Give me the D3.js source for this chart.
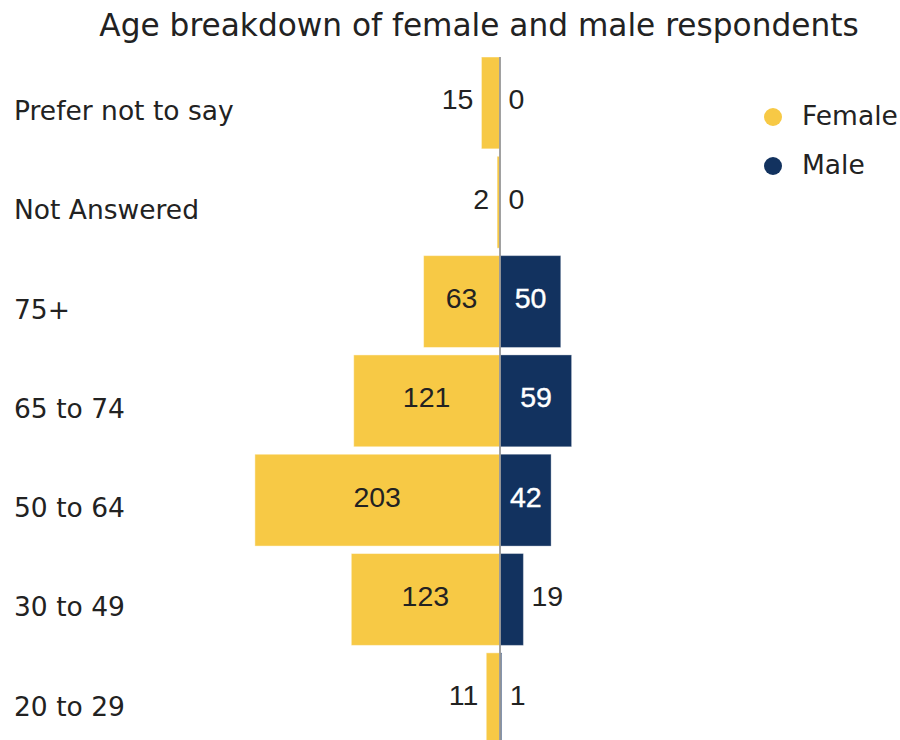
<!DOCTYPE html>
<html>
<head>
<meta charset="utf-8">
<script src="https://cdn.jsdelivr.net/npm/d3@7"></script>
<style>
  html, body { margin: 0; padding: 0; background: #fff; }
  svg { display: block; }
</style>
</head>
<body>
<svg id="chart" width="900" height="740"></svg>
<script>
// Age groups, top to bottom
const categories = ["Prefer not to say", "Not Answered", "75+", "65 to 74", "50 to 64", "30 to 49", "20 to 29"];
// Respondent counts per age group
const femaleValues = [15, 2, 63, 121, 203, 123, 11];
const maleValues = [0, 0, 50, 59, 42, 19, 1];
const seriesNames = ["Female", "Male"];

const colors = { Female: "#F7C945", Male: "#12325F" };
const textColor = "#222";
const labelFont = "'DejaVu Sans', Verdana, sans-serif";
const valueFont = "'Liberation Sans', Arial, sans-serif";

const svg = d3.select("#chart");
const centerX = 500;

// Band scale for the age groups
const y = d3.scaleBand()
  .domain(categories)
  .range([57, 744.7])
  .paddingInner(0.075)
  .paddingOuter(0);

// Mirrored linear scales: female extends left, male extends right
const xFemale = d3.scaleLinear().domain([0, 250]).range([centerX - 0.5, centerX - 0.5 - 250 * 1.205]);
const xMale = d3.scaleLinear().domain([0, 250]).range([centerX + 0.5, centerX + 0.5 + 250 * 1.205]);

const rows = categories.map((c, i) => ({ cat: c, female: femaleValues[i], male: maleValues[i] }));

// Title
svg.append("text")
  .attr("x", 479)
  .attr("y", 36)
  .attr("text-anchor", "middle")
  .attr("font-family", labelFont)
  .attr("font-size", 31.2)
  .attr("fill", textColor)
  .text("Age breakdown of female and male respondents");

// Category labels on the left
svg.append("g")
  .selectAll("text")
  .data(rows)
  .join("text")
  .attr("x", 14)
  .attr("y", d => y(d.cat) + y.bandwidth() / 2 + 17)
  .attr("font-family", labelFont)
  .attr("font-size", 26.5)
  .attr("fill", textColor)
  .text(d => d.cat);

// Female bars
svg.append("g")
  .selectAll("rect")
  .data(rows)
  .join("rect")
  .attr("x", d => xFemale(d.female))
  .attr("y", d => y(d.cat))
  .attr("width", d => xFemale(0) - xFemale(d.female))
  .attr("height", y.bandwidth())
  .attr("fill", colors.Female)
  .attr("stroke", "rgba(255,255,255,0.45)")
  .attr("stroke-width", 1);

// Male bars
svg.append("g")
  .selectAll("rect")
  .data(rows)
  .join("rect")
  .attr("x", xMale(0))
  .attr("y", d => y(d.cat))
  .attr("width", d => xMale(d.male) - xMale(0))
  .attr("height", y.bandwidth())
  .attr("fill", colors.Male)
  .attr("stroke", d => d.male > 0 ? "rgba(255,255,255,0.35)" : "none")
  .attr("stroke-width", 1);

// Centre axis line
svg.append("line")
  .attr("x1", centerX).attr("x2", centerX)
  .attr("y1", y(categories[0])).attr("y2", 740)
  .attr("stroke", "#8a8a8a")
  .attr("stroke-width", 1.6);

const insideMin = 30;

// Female value labels
svg.append("g")
  .selectAll("text")
  .data(rows)
  .join("text")
  .attr("x", d => d.female >= insideMin ? (xFemale(d.female) + xFemale(0)) / 2 : xFemale(d.female) - 8)
  .attr("y", d => y(d.cat) + y.bandwidth() / 2 + 6.5)
  .attr("text-anchor", d => d.female >= insideMin ? "middle" : "end")
  .attr("font-family", valueFont)
  .attr("font-size", 28.5)
  .attr("fill", textColor)
  .text(d => d.female);

// Male value labels
svg.append("g")
  .selectAll("text")
  .data(rows)
  .join("text")
  .attr("x", d => d.male >= insideMin ? (xMale(d.male) + xMale(0)) / 2 : xMale(d.male) + 8)
  .attr("y", d => y(d.cat) + y.bandwidth() / 2 + 6.5)
  .attr("text-anchor", d => d.male >= insideMin ? "middle" : "start")
  .attr("font-family", valueFont)
  .attr("font-size", 28.5)
  .attr("fill", d => d.male >= insideMin ? "#fff" : textColor)
  .attr("stroke", d => d.male >= insideMin ? "#fff" : "none")
  .attr("stroke-width", 0.4)
  .text(d => d.male);

// Legend
const legend = svg.append("g")
  .selectAll("g")
  .data(seriesNames)
  .join("g")
  .attr("transform", (d, i) => `translate(773, ${117 + i * 49})`);

legend.append("circle")
  .attr("r", 9)
  .attr("fill", d => colors[d]);

legend.append("text")
  .attr("x", 29)
  .attr("y", 8)
  .attr("font-family", labelFont)
  .attr("font-size", 26.5)
  .attr("fill", textColor)
  .text(d => d);
</script>
</body>
</html>
